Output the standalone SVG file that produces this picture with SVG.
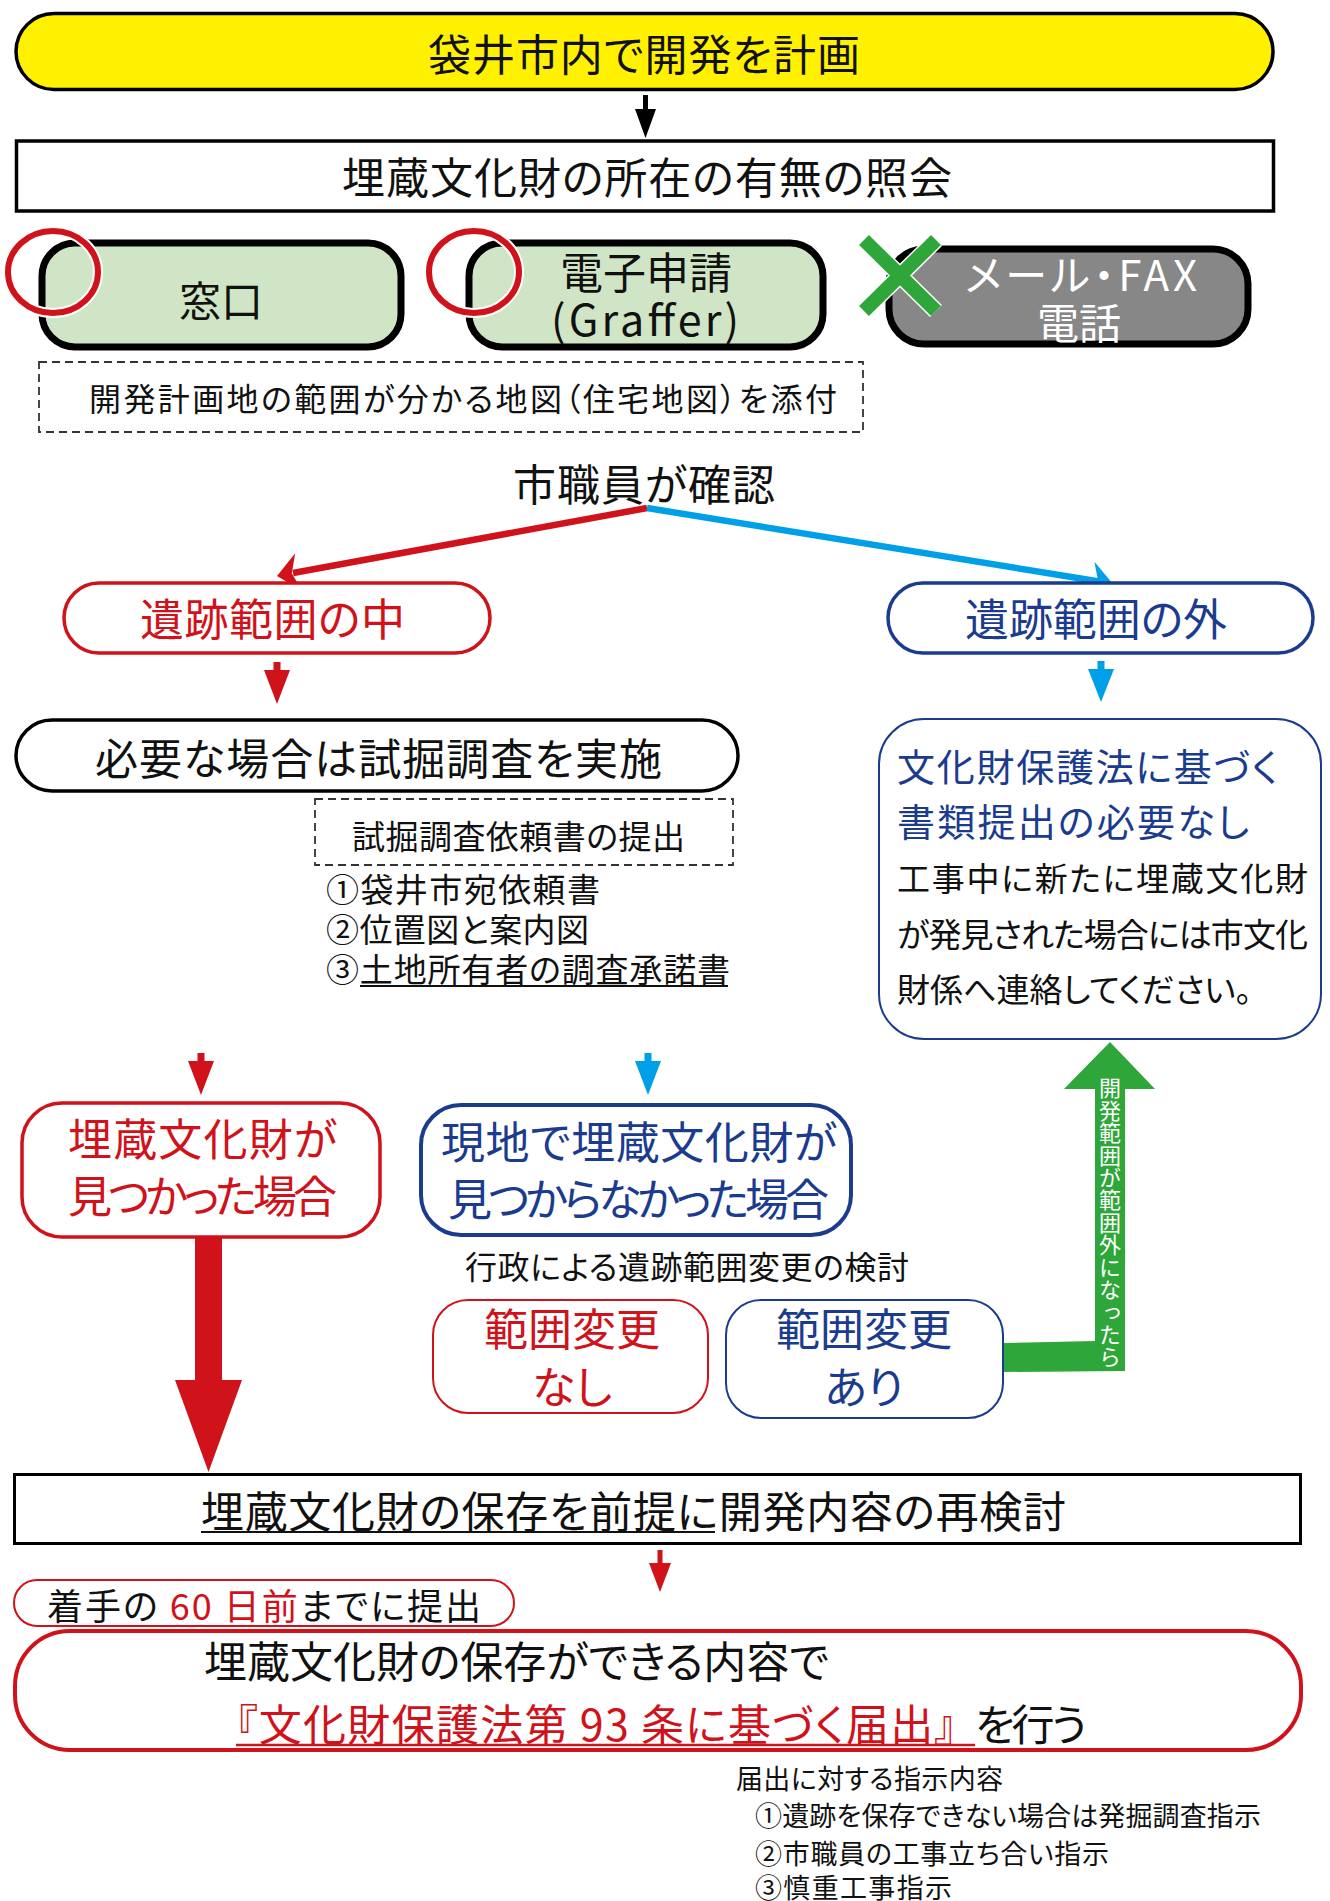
<svg xmlns="http://www.w3.org/2000/svg" width="1330" height="1901" viewBox="0 0 1330 1901">
<style>
.t{font-family:"Noto Sans CJK JP","Noto Sans JP",sans-serif;dominant-baseline:central;fill:#111;font-feature-settings:"palt";}
.c{text-anchor:middle;}
.red{fill:#D0121B;}
.blue{fill:#1B3C8E;}
.white{fill:#fff;}
.pillG{fill:#D0E5C5;stroke:#000;stroke-width:7;}
.pillK{fill:#878787;stroke:#000;stroke-width:7;}
.bk{fill:#fff;stroke:#000;stroke-width:3.5;}
.rd{fill:#fff;stroke:#D0121B;stroke-width:3.5;}
.bl{fill:#fff;stroke:#1B3C8E;stroke-width:3.5;}
.dash{fill:none;stroke:#333;stroke-width:1.8;stroke-dasharray:8 5;}
.okhalo{fill:none;stroke:#fff;stroke-width:10;}
.ok{fill:none;stroke:#D0121B;stroke-width:6;}
.fr{fill:#D0121B;}
.fb{fill:#00A0E9;}
</style>
<rect width="1330" height="1901" fill="#fff"/>

<g id="connectors">
<polygon points="643,95 648,95 648,109 656,109 645.5,138 635,109 643,109" fill="#000"/>
<line x1="647" y1="508" x2="293" y2="573" stroke="#D0121B" stroke-width="6.5"/>
<polygon class="fr" points="277,576 295.2,553.3 291.8,573.3 302,590.7"/>
<line x1="647" y1="508" x2="1099" y2="581.5" stroke="#00A0E9" stroke-width="6.5"/>
<polygon class="fb" points="1113,584 1088.2,599.3 1098.2,581.6 1094.4,561.7"/>
<polygon class="fr" points="273.5,662 280.5,662 280.5,670 290,670 277,704 264,670 273.5,670"/>
<polygon class="fb" points="1097.5,661 1104.5,661 1104.5,669 1114,669 1101,702 1088,669 1097.5,669"/>
<polygon class="fr" points="197.5,1053 204.5,1053 204.5,1061 214,1061 201,1095 188,1061 197.5,1061"/>
<polygon class="fb" points="644.5,1053 651.5,1053 651.5,1061 661,1061 648,1095 635,1061 644.5,1061"/>
<polygon class="fr" points="195,1238 222,1238 222,1380 242,1380 208.5,1472 175,1380 195,1380"/>
<polygon points="1002,1343 1095,1341 1095,1089 1064,1089 1110,1042 1155,1089 1125,1089 1125,1371 1002,1372" fill="#2EA639"/>
<text class="t white" x="1110" y="1077" font-size="22" style="writing-mode:vertical-rl;dominant-baseline:auto;font-feature-settings:normal" textLength="291" lengthAdjust="spacing">開発範囲が範囲外になったら</text>
<polygon class="fr" points="657.5,1550 662.5,1550 662.5,1563 671,1563 660,1592 649,1563 657.5,1563"/>
</g>

<g id="n-start">
<rect x="16" y="13.5" width="1257" height="76" rx="38" fill="#FFF100" stroke="#000" stroke-width="3.5"/>
<text class="t" x="428" y="52" font-size="43" textLength="432" lengthAdjust="spacing">袋井市内で開発を計画</text>
</g>

<g id="n-inquiry">
<rect x="16.5" y="141" width="1257" height="70" class="bk"/>
<text class="t" x="342" y="175" font-size="43" textLength="610" lengthAdjust="spacing">埋蔵文化財の所在の有無の照会</text>
</g>

<g id="n-madoguchi">
<rect x="42" y="243" width="359" height="104" rx="33" class="pillG"/>
<text class="t c" x="221" y="298" font-size="42">窓口</text>
<ellipse cx="53" cy="272" rx="45" ry="41" class="okhalo"/>
<ellipse cx="53" cy="272" rx="45" ry="41" class="ok"/>
</g>

<g id="n-online">
<rect x="469" y="243" width="354" height="104" rx="33" class="pillG"/>
<text class="t c" x="646" y="270" font-size="43">電子申請</text>
<text class="t" x="551" y="317" font-size="43" textLength="188" lengthAdjust="spacing">(Graffer)</text>
<ellipse cx="474" cy="272" rx="45" ry="41" class="okhalo"/>
<ellipse cx="474" cy="272" rx="45" ry="41" class="ok"/>
</g>

<g id="n-mail">
<rect x="889" y="249" width="359" height="95" rx="35" class="pillK"/>
<text class="t white" x="965" y="272" font-size="42" textLength="232" lengthAdjust="spacing">メール・FAX</text>
<text class="t white c" x="1079" y="320" font-size="42">電話</text>
<line x1="864" y1="240" x2="936" y2="311" stroke="#fff" stroke-width="17"/>
<line x1="936" y1="240" x2="864" y2="311" stroke="#fff" stroke-width="17"/>
<line x1="864" y1="240" x2="936" y2="311" stroke="#2EA639" stroke-width="14"/>
<line x1="936" y1="240" x2="864" y2="311" stroke="#2EA639" stroke-width="14"/>
</g>

<g id="n-attach">
<rect x="39" y="362" width="824" height="70" class="dash"/>
<text class="t" x="89" y="397" font-size="32" textLength="748" lengthAdjust="spacing">開発計画地の範囲が分かる地図（住宅地図）を添付</text>
</g>

<g id="n-check">
<text class="t" x="513" y="482" font-size="43" textLength="262" lengthAdjust="spacing">市職員が確認</text>
</g>

<g id="n-inside">
<rect x="64" y="583" width="426" height="70" rx="35" class="rd"/>
<text class="t red" x="140" y="617" font-size="44" textLength="265" lengthAdjust="spacing">遺跡範囲の中</text>
</g>

<g id="n-outside">
<rect x="888" y="583" width="425" height="70" rx="35" class="bl"/>
<text class="t blue" x="965" y="617" font-size="44" textLength="262" lengthAdjust="spacing">遺跡範囲の外</text>
</g>

<g id="n-trial">
<rect x="16" y="720" width="722" height="71" rx="36" class="bk"/>
<text class="t" x="95" y="756" font-size="43" textLength="567" lengthAdjust="spacing">必要な場合は試掘調査を実施</text>
</g>

<g id="n-request">
<rect x="315" y="799" width="418" height="66" class="dash"/>
<text class="t" x="352" y="835" font-size="33" textLength="333" lengthAdjust="spacing">試掘調査依頼書の提出</text>
<text class="t" x="326" y="888" font-size="33" textLength="274" lengthAdjust="spacing">①袋井市宛依頼書</text>
<text class="t" x="326" y="928" font-size="33" textLength="263" lengthAdjust="spacing">②位置図と案内図</text>
<text class="t" x="326" y="968" font-size="33" textLength="404" lengthAdjust="spacing">③土地所有者の調査承諾書</text>
<line x1="360" y1="986" x2="728" y2="986" stroke="#111" stroke-width="2"/>
</g>

<g id="n-nodoc">
<rect x="879" y="719" width="442" height="320" rx="45" fill="#fff" stroke="#1B3C8E" stroke-width="2"/>
<text class="t blue" x="897" y="764" font-size="38" textLength="381" lengthAdjust="spacing">文化財保護法に基づく</text>
<text class="t blue" x="897" y="819" font-size="38" textLength="352" lengthAdjust="spacing">書類提出の必要なし</text>
<text class="t" x="897" y="877" font-size="33" textLength="411" lengthAdjust="spacing">工事中に新たに埋蔵文化財</text>
<text class="t" x="897" y="933" font-size="33" textLength="411" lengthAdjust="spacing">が発見された場合には市文化</text>
<text class="t" x="897" y="988" font-size="33">財係へ連絡してください。</text>
</g>

<g id="n-found">
<rect x="22" y="1103" width="358" height="134" rx="40" class="rd"/>
<text class="t red" x="68" y="1137" font-size="44" textLength="269" lengthAdjust="spacing">埋蔵文化財が</text>
<text class="t red" x="68" y="1194" font-size="44" textLength="269" lengthAdjust="spacing">見つかった場合</text>
</g>

<g id="n-notfound">
<rect x="421" y="1105" width="430" height="130" rx="40" fill="#fff" stroke="#1B3C8E" stroke-width="4"/>
<text class="t blue" x="441" y="1140" font-size="44" textLength="396" lengthAdjust="spacing">現地で埋蔵文化財が</text>
<text class="t blue" x="448" y="1197" font-size="44" textLength="381" lengthAdjust="spacing">見つからなかった場合</text>
</g>

<g id="n-review">
<text class="t" x="465" y="1265" font-size="32" textLength="444" lengthAdjust="spacing">行政による遺跡範囲変更の検討</text>
</g>

<g id="n-nochange">
<rect x="433" y="1300" width="275" height="113" rx="35" fill="#fff" stroke="#D0121B" stroke-width="2"/>
<text class="t red c" x="572" y="1327" font-size="44">範囲変更</text>
<text class="t red c" x="572" y="1385" font-size="44">なし</text>
</g>

<g id="n-change">
<rect x="726" y="1300" width="277" height="118" rx="35" fill="#fff" stroke="#1B3C8E" stroke-width="2"/>
<text class="t blue c" x="864" y="1327" font-size="44">範囲変更</text>
<text class="t blue c" x="864" y="1385" font-size="44">あり</text>
</g>

<g id="n-reconsider">
<rect x="14.5" y="1474.5" width="1286" height="69" fill="#fff" stroke="#000" stroke-width="3"/>
<text class="t" x="201" y="1509" font-size="43" textLength="865" lengthAdjust="spacing">埋蔵文化財の保存を前提に開発内容の再検討</text>
<line x1="201" y1="1532" x2="715" y2="1532" stroke="#111" stroke-width="2"/>
</g>

<g id="n-deadline">
<rect x="14" y="1580" width="500" height="46" rx="23" fill="#fff" stroke="#D0121B" stroke-width="2"/>
<text class="t" x="47" y="1604" font-size="36" textLength="434" lengthAdjust="spacing">着手の<tspan class="red"> 60 日前</tspan>までに提出</text>
</g>

<g id="n-notify">
<rect x="15" y="1631" width="1286" height="119" rx="55" fill="#fff" stroke="#D0121B" stroke-width="4"/>
<text class="t" x="204" y="1659" font-size="43" textLength="625" lengthAdjust="spacing">埋蔵文化財の保存ができる内容で</text>
<text class="t red" x="236" y="1722" font-size="43" textLength="720" lengthAdjust="spacing">『文化財保護法第 93 条に基づく届出』</text>
<text class="t" x="975" y="1722" font-size="43" textLength="112" lengthAdjust="spacing">を行う</text>
<line x1="236" y1="1745" x2="975" y2="1745" stroke="#D0121B" stroke-width="2.5"/>
</g>

<g id="n-instructions">
<text class="t" x="736" y="1777" font-size="27" textLength="267" lengthAdjust="spacing">届出に対する指示内容</text>
<text class="t" x="755" y="1814" font-size="27" textLength="506" lengthAdjust="spacing">①遺跡を保存できない場合は発掘調査指示</text>
<text class="t" x="755" y="1852" font-size="27" textLength="354" lengthAdjust="spacing">②市職員の工事立ち合い指示</text>
<text class="t" x="755" y="1886" font-size="27" textLength="197" lengthAdjust="spacing">③慎重工事指示</text>
</g>
</svg>
